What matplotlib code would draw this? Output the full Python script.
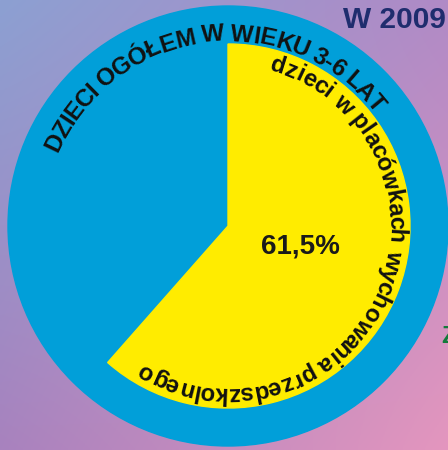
import numpy as np
import matplotlib
matplotlib.use('Agg')
import matplotlib.pyplot as plt
from matplotlib.patches import Circle, Wedge
from matplotlib.font_manager import FontProperties, findfont, get_font

# data
share_label = 'dzieci w placówkach wychowania przedszkolnego'
total_label = 'DZIECI OGÓŁEM W WIEKU 3-6 LAT'
share_pct = 61.5
share_text = '61,5%'
year_text = 'W 2009'

W, H = 448, 450
cx, cy = 228, H - 226
r_outer = 220
r_inner = 182

fig = plt.figure(figsize=(W / 100, H / 100), dpi=100)
ax = fig.add_axes([0, 0, 1, 1])
ax.set_xlim(0, W)
ax.set_ylim(0, H)
ax.axis('off')

# background gradient (bilinear between corner colours)
tl = np.array([140, 160, 210]) / 255
tr = np.array([176, 138, 198]) / 255
bl = np.array([168, 130, 190]) / 255
br = np.array([228, 150, 190]) / 255
u = np.linspace(0, 1, 200)[None, :, None]
v = np.linspace(0, 1, 200)[:, None, None]
bg = (1 - v) * ((1 - u) * tl + u * tr) + v * ((1 - u) * bl + u * br)
ax.imshow(bg, extent=[0, W, 0, H], origin='upper', aspect='auto', zorder=0)

blue = '#019fd9'
yellow = '#ffec00'
ax.add_patch(Circle((cx, cy), r_outer, color=blue, zorder=1))
start = 90 - share_pct / 100 * 360
ax.add_patch(Wedge((cx, cy), r_inner, start, 90, color=yellow, zorder=2))


def curved_text(s, radius, a_start, a_end, size):
    # text read clockwise from a_start to a_end, tops facing outward
    fp = FontProperties(family='Liberation Sans', weight='bold', size=size)
    font = get_font(findfont(fp))
    font.set_size(size, 100)
    adv, ink = [], []
    for ch in s:
        g = font.load_char(ord(ch))
        adv.append(g.linearHoriAdvance / 65536)
        ink.append(g.horiBearingX / 64 + g.width / 128)
    adv = np.array(adv)
    target = np.radians(a_start - a_end) * radius
    extra = (target - adv.sum()) / (len(s) - 1)
    pos = 0.0
    for ch, w, c in zip(s, adv, ink):
        mid = pos + c
        pos += w + extra
        if ch == ' ':
            continue
        a = np.radians(a_start) - mid / radius
        x = cx + radius * np.cos(a)
        y = cy + radius * np.sin(a)
        ax.text(x, y, ch, fontproperties=fp, rotation=np.degrees(a) - 90,
                rotation_mode='anchor', ha='center', va='baseline', zorder=5,
                color='#111111')


curved_text(total_label, 185, 157, 37.5, 17.5)
curved_text(share_label, 161, 75, -122, 17.2)

ax.text(300, H - 247, share_text, ha='center', va='center', fontsize=20,
        fontweight='bold', family='Liberation Sans', color='#1a1a1a', zorder=5)
ax.text(343, H - 28, year_text, ha='left', va='baseline', fontsize=21.5,
        fontweight='bold', family='Liberation Sans', color='#1f2d6e', zorder=5)
ax.text(441, H - 343, 'Z', ha='left', va='baseline', fontsize=17,
        fontweight='bold', family='Liberation Sans', color='#137a3a', zorder=5)

fig.savefig('out.png', dpi=100)
